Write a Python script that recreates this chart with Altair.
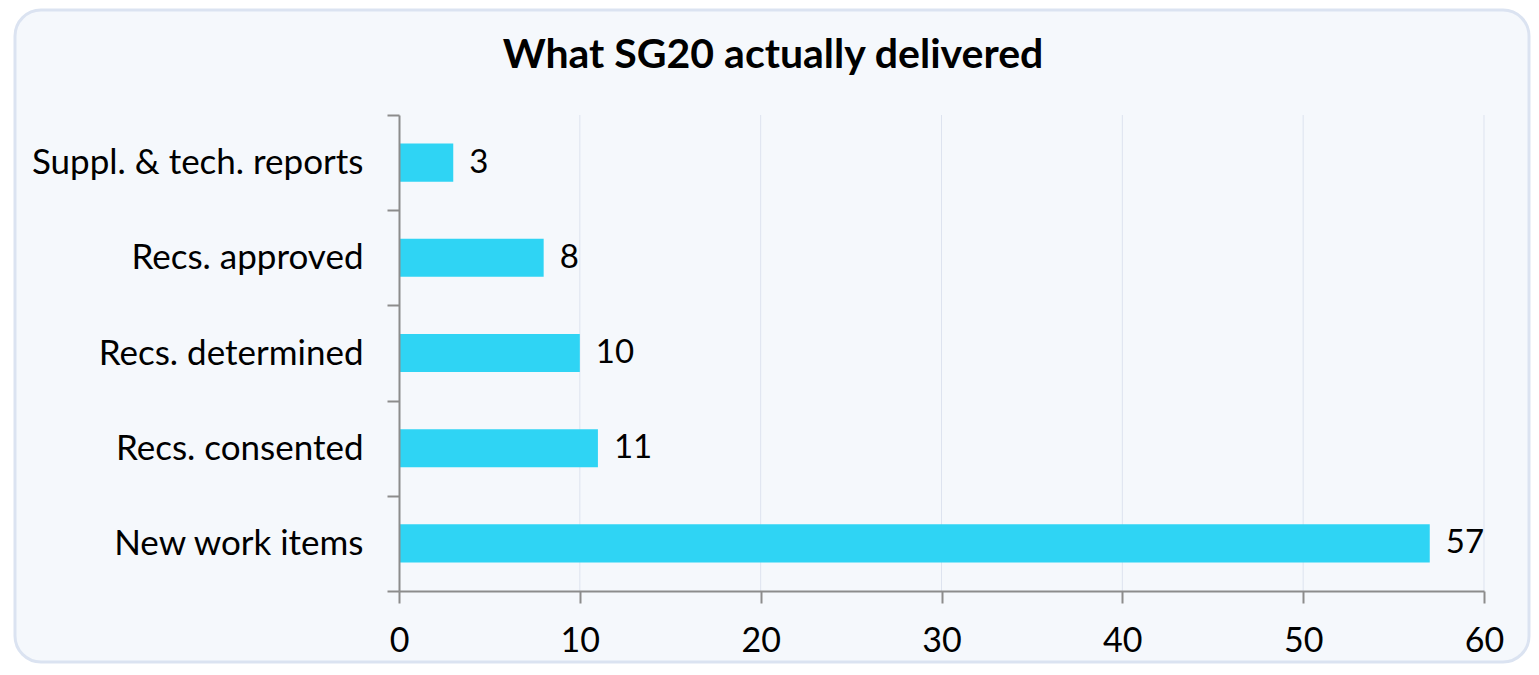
import altair as alt
import pandas as pd

categories = ["Suppl. & tech. reports", "Recs. approved", "Recs. determined", "Recs. consented", "New work items"]
values = [3, 8, 10, 11, 57]
x_ticks = [0, 10, 20, 30, 40, 50, 60]
title_text = "What SG20 actually delivered"

df = pd.DataFrame({"category": categories, "value": values})

FONT = "Lato"
W, H = 1085, 476
PAD = {"left": 391, "top": 107, "right": 47, "bottom": 74}

frame = alt.Chart(pd.DataFrame({"a": [0]})).mark_rect(
    fill="#f5f8fc", stroke="#dbe3f1", strokeWidth=3, cornerRadius=26
).encode(
    x=alt.value(-384), x2=alt.value(1130),
    y=alt.value(-105), y2=alt.value(H + PAD["bottom"] - 3),
)

title = alt.Chart(pd.DataFrame({"t": [title_text]})).mark_text(
    font=FONT, fontSize=41, fontWeight="bold", color="#000000", align="center", baseline="alphabetic"
).encode(x=alt.value(374), y=alt.value(-47), text="t:N")

y_enc = alt.Y("category:N", sort=categories, title=None,
              scale=alt.Scale(paddingInner=0, paddingOuter=0),
              axis=alt.Axis(tickBand="extent", tickSize=12, tickWidth=2, tickColor="#8c8c8c",
                            domainColor="#8c8c8c", domainWidth=2, labelFontSize=35, labelFont=FONT,
                            labelColor="#000000", labelPadding=24, labelLimit=500, grid=False,
                            zindex=1))
x_enc = alt.X("value:Q", title=None,
              scale=alt.Scale(domain=[0, 60], nice=False),
              axis=alt.Axis(values=x_ticks, tickSize=12, tickWidth=2, tickColor="#8c8c8c",
                            domainColor="#8c8c8c", domainWidth=2, labelFontSize=34, labelFont=FONT,
                            labelColor="#000000", labelPadding=21, labelFlush=False, grid=False,
                            zindex=1))

grid = alt.Chart(pd.DataFrame({"t": x_ticks[1:]})).mark_rule(color="#dde3ef", strokeWidth=1).encode(
    x=alt.X("t:Q", scale=alt.Scale(domain=[0, 60], nice=False)))

bars = alt.Chart(df).mark_bar(color="#2fd4f4", height={"band": 0.4}).encode(x=x_enc, y=y_enc)
labels = alt.Chart(df).mark_text(align="left", baseline="middle", dx=16, fontSize=33,
                                 font=FONT, color="#000000").encode(
    x="value:Q", y=alt.Y("category:N", sort=categories), text="value:Q")

chart = alt.layer(frame, grid, bars, labels, title).properties(
    width=W, height=H,
    padding=PAD,
    autosize=alt.AutoSizeParams(type="none"),
    background="white",
).configure_view(stroke=None)

chart.save("out.html", embed_options={"renderer": "svg", "actions": False})
